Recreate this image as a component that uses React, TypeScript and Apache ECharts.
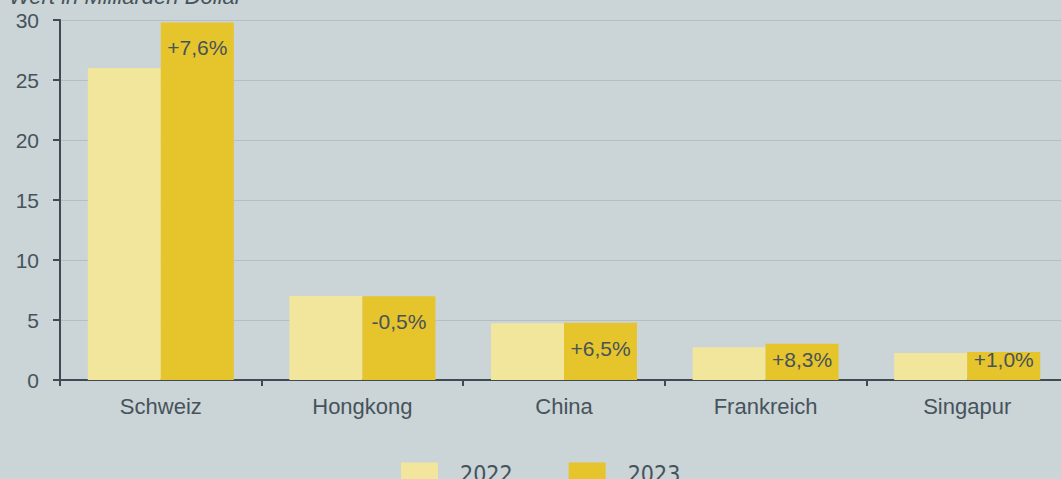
import React, { useEffect, useRef } from "react";
import * as echarts from "echarts";

const categories = ["Schweiz", "Hongkong", "China", "Frankreich", "Singapur"];
const values2022 = [26.0, 7.0, 4.72, 2.72, 2.25];
const values2023 = [29.8, 6.97, 4.77, 3.03, 2.33];
const changeLabels = ["+7,6%", "-0,5%", "+6,5%", "+8,3%", "+1,0%"];
const seriesNames = ["2022", "2023"];
const yTicks = { min: 0, max: 30, interval: 5 };
const titleText = "Wert in Milliarden Dollar";

const BG = "#cbd4d7";
const TEXT = "#46535b";
const AXIS = "#3f4b53";
const FONT = "'Liberation Sans', Arial, sans-serif";

export default function App() {
  const ref = useRef<HTMLDivElement>(null);
  useEffect(() => {
    const chart = echarts.init(ref.current!, null, { renderer: "svg" });
    const labelPos: any[] = [null, null, null, ["50%", 5], ["50%", -3]];
    const data2023 = values2023.map((v, i) => {
      const item: any = { value: v };
      if (labelPos[i]) {
        item.label = { position: labelPos[i], align: "center", verticalAlign: "top", distance: 0 };
      }
      return item;
    });
    chart.setOption({
      animation: false,
      backgroundColor: BG,
      textStyle: { fontFamily: FONT },
      grid: { left: 60, top: 20, height: 360, right: 0 },
      legend: {
        top: 462,
        left: 401,
        itemWidth: 37,
        itemHeight: 22,
        itemGap: 56,
        padding: 0,
        icon: "rect",
        data: seriesNames,
        textStyle: {
          fontFamily: "'DejaVu Sans Condensed', 'Liberation Sans Narrow', sans-serif",
          fontSize: 23,
          color: TEXT,
          padding: [0, 0, 0, 17],
        },
      },
      graphic: [
        {
          type: "text",
          left: 9,
          top: -15,
          style: {
            text: titleText,
            font: `italic 22px ${FONT}`,
            fill: TEXT,
          },
        },
      ],
      xAxis: {
        type: "category",
        data: categories,
        boundaryGap: true,
        axisLine: { lineStyle: { color: AXIS, width: 2 } },
        axisTick: { show: true, length: 6, lineStyle: { color: AXIS, width: 2 } },
        axisLabel: { color: TEXT, fontSize: 22, margin: 15, fontFamily: FONT },
      },
      yAxis: {
        type: "value",
        min: yTicks.min,
        max: yTicks.max,
        interval: yTicks.interval,
        axisLine: { show: true, lineStyle: { color: AXIS, width: 2 } },
        axisTick: { show: true, length: 7, lineStyle: { color: AXIS, width: 2 } },
        axisLabel: { color: TEXT, fontSize: 21, margin: 21, fontFamily: FONT },
        splitLine: { show: true, lineStyle: { color: "#b5bfc3", width: 1 } },
      },
      series: [
        {
          name: seriesNames[0],
          type: "bar",
          data: values2022,
          barWidth: 73,
          barGap: "0%",
          itemStyle: { color: "#f2e69c" },
        },
        {
          name: seriesNames[1],
          type: "bar",
          data: data2023,
          barWidth: 73,
          barGap: "0%",
          itemStyle: { color: "#e6c42c" },
          label: {
            show: true,
            position: "insideTop",
            distance: 15,
            formatter: (p: any) => changeLabels[p.dataIndex],
            color: TEXT,
            fontSize: 21,
            fontFamily: FONT,
          },
        },
      ],
    });
    return () => chart.dispose();
  }, []);
  return (
    <div
      ref={ref}
      style={{ position: "fixed", left: 0, top: 0, width: 1068, height: 479 }}
    />
  );
}
